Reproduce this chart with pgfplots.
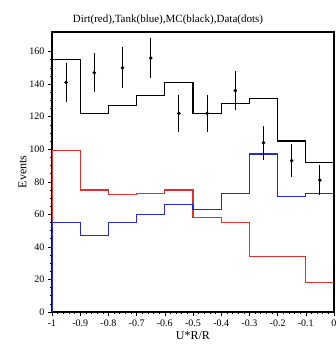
\documentclass[border=0pt]{standalone}
\usepackage{pgfplots}
\pgfplotsset{compat=1.18}
\usepackage{fontspec}
\setmainfont{Liberation Serif}
\definecolor{hred}{RGB}{228,45,45}
\definecolor{hblue}{RGB}{40,40,215}
\begin{document}
\begin{tikzpicture}
\begin{axis}[name=ax,
  scale only axis, width=282pt, height=280pt,
  xmin=-1, xmax=0, ymin=0, ymax=172,
  axis line style={line width=1.1pt},
  xtick={-1,-0.9,-0.8,-0.7,-0.6,-0.5,-0.4,-0.3,-0.2,-0.1,0},
  xticklabels={-1,-0.9,-0.8,-0.7,-0.6,-0.5,-0.4,-0.3,-0.2,-0.1,0},
  ytick={0,20,40,60,80,100,120,140,160},
  minor x tick num=4, minor y tick num=3,
  tick align=outside, xtick pos=bottom, ytick pos=left,
  major tick length=4pt, minor tick length=2pt,
  tick style={black, line width=0.5pt},
  /pgf/number format/assume math mode=true,
  ticklabel style={font=\fontsize{10}{11}\selectfont},
  xlabel={U*R/R}, ylabel={Events},
  label style={font=\fontsize{12}{13}\selectfont},
  xlabel style={yshift=2pt},
  ylabel style={yshift=-4pt},
  title={Dirt(red),Tank(blue),MC(black),Data(dots)},
  title style={font=\fontsize{11}{12}\selectfont, yshift=-2pt, xshift=-25pt},
]
\addplot[const plot mark left, hred, line width=1.2pt] coordinates {
(-1,0)(-1,99)(-0.9,75)(-0.8,72)(-0.7,73)(-0.6,75)(-0.5,58)(-0.4,55)(-0.3,34)(-0.2,34)(-0.1,18)(0,18)};
\addplot[const plot mark left, hblue, line width=1.2pt] coordinates {
(-1,0)(-1,55)(-0.9,47)(-0.8,55)(-0.7,60)(-0.6,66)(-0.5,63)(-0.4,73)(-0.3,97)(-0.2,71)(-0.1,73)(0,73)};
\addplot[const plot mark left, black, line width=1.2pt] coordinates {
(-1,155)(-0.9,122)(-0.8,127)(-0.7,133)(-0.6,141)(-0.5,122)(-0.4,128)(-0.3,131)(-0.2,105)(-0.1,92)(0,92)};
\addplot[only marks, mark=*, mark size=1.6pt, black,
  error bars/.cd, y dir=both, y explicit, error bar style={line width=1.1pt}, error mark=none]
  coordinates {
(-0.95,141) +- (0,12)
(-0.85,147) +- (0,12)
(-0.75,150) +- (0,12.5)
(-0.65,156) +- (0,12.5)
(-0.55,122) +- (0,11.5)
(-0.45,122) +- (0,11.5)
(-0.35,136) +- (0,12)
(-0.25,104) +- (0,10.5)
(-0.15,93) +- (0,10)
(-0.05,81) +- (0,9)
};
\end{axis}
\pgfresetboundingbox
\path ([xshift=-52pt,yshift=-34pt]ax.south west) rectangle ([xshift=2pt,yshift=32pt]ax.north east);
\end{tikzpicture}
\end{document}
